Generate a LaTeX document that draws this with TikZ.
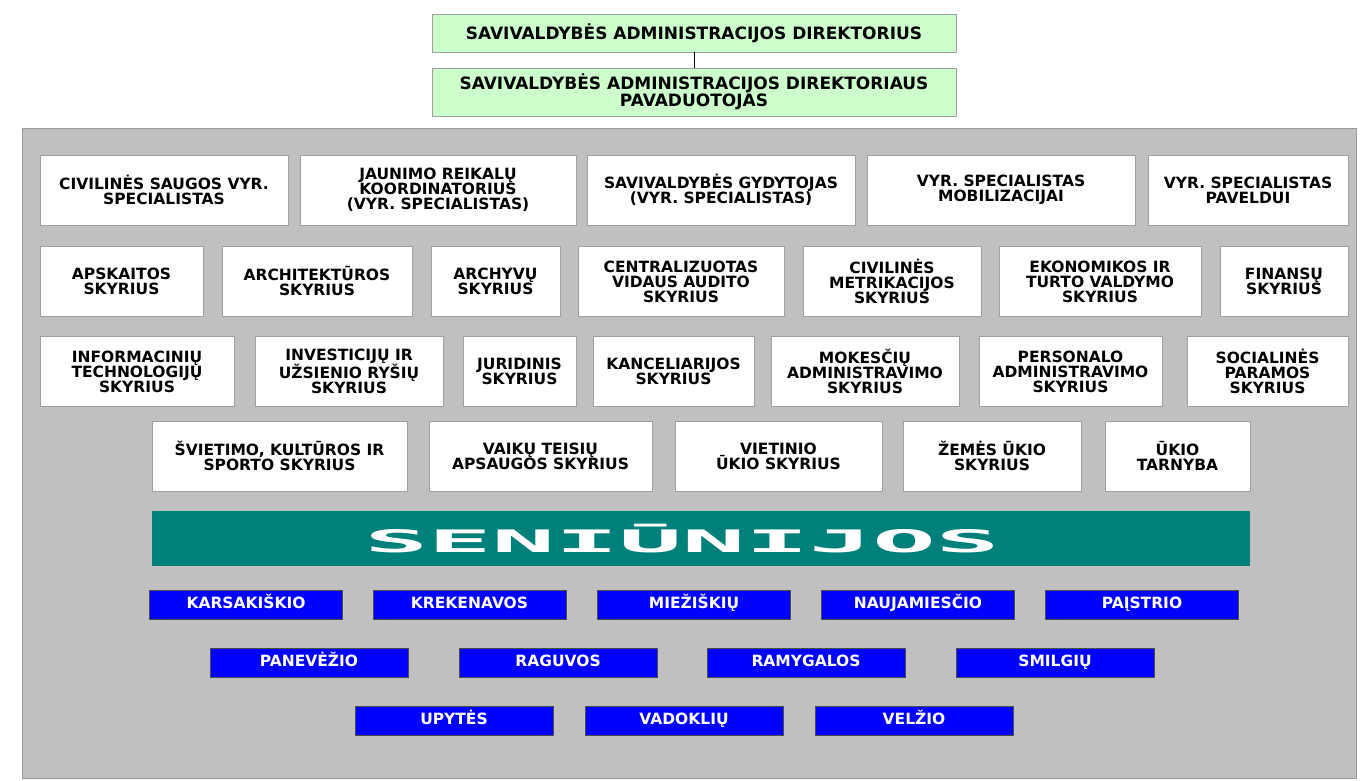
\documentclass[tikz,border=0pt]{standalone}
\usepackage{fontspec}
\setmainfont{DejaVu Sans}
\newfontfamily\widefont{DejaVu Sans Mono}
\usetikzlibrary{shapes,positioning}
\definecolor{panelgray}{RGB}{192,192,192}
\definecolor{headgreen}{RGB}{204,255,204}
\definecolor{bannerteal}{RGB}{0,128,122}
\definecolor{wardblue}{RGB}{0,0,255}
\tikzstyle{head} = [draw=gray!75,fill=headgreen,rectangle,inner sep=0,minimum width=524pt,align=center,font=\fontsize{17}{17}\selectfont\bfseries]
\tikzstyle{unit} = [draw=gray!75,fill=white,rectangle,inner sep=0,align=center,font=\fontsize{15.5}{15}\selectfont\bfseries]
\tikzstyle{ward} = [draw=gray!60!black,fill=wardblue,text=white,rectangle,inner sep=0,minimum height=29pt,text height=11.5pt,text depth=3.5pt,font=\fontsize{15.5}{15}\selectfont\bfseries]
\tikzstyle{banner} = [fill=bannerteal,rectangle,inner sep=0,minimum width=1098pt,minimum height=55pt]
\tikzstyle{bannertext} = [text=white,inner sep=0,font=\widefont\bfseries\fontsize{31}{31}\selectfont]
\tikzstyle{panel} = [draw=gray!80,fill=panelgray]
\tikzstyle{index} = [-,thin,color=black]
\def \rowh {70pt}

\begin{document}
\begin{tikzpicture}[x=1pt,y=-1pt]
  \fill[white] (0,0) rectangle (1365,781);
  \useasboundingbox (0,0) rectangle (1365,781);
  % management
  \node[head,minimum height=38pt] (dir) at (694,33) {SAVIVALDYBĖS ADMINISTRACIJOS DIREKTORIUS};
  \node[head,minimum height=48pt] (dirpav) at (694,92) {SAVIVALDYBĖS ADMINISTRACIJOS DIREKTORIAUS\\PAVADUOTOJAS};
  \draw[index] (dir) -- (dirpav);
  \draw[panel] (22,128) rectangle (1356,778);

  % specialists
  \node[unit,minimum width=248pt,minimum height=\rowh] (civsaug) at (164,190) {CIVILINĖS SAUGOS VYR.\\SPECIALISTAS};
  \node[unit,minimum width=276pt,minimum height=\rowh] (jaun) at (438,190) {JAUNIMO REIKALŲ\\KOORDINATORIUS\\(VYR. SPECIALISTAS)};
  \node[unit,minimum width=268pt,minimum height=\rowh] (gyd) at (721,190) {SAVIVALDYBĖS GYDYTOJAS\\(VYR. SPECIALISTAS)};
  \node[unit,minimum width=268pt,minimum height=\rowh] (mob) at (1001,190) {VYR. SPECIALISTAS\\MOBILIZACIJAI};
  \node[unit,minimum width=200pt,minimum height=\rowh] (paveld) at (1248,190) {VYR. SPECIALISTAS\\PAVELDUI};

  % departments
  \node[unit,minimum width=163pt,minimum height=\rowh] (apsk) at (121.5,281.5) {APSKAITOS\\SKYRIUS};
  \node[unit,minimum width=190pt,minimum height=\rowh] (arch) at (317,281.5) {ARCHITEKTŪROS\\SKYRIUS};
  \node[unit,minimum width=129pt,minimum height=\rowh] (archyv) at (495.5,281.5) {ARCHYVŲ\\SKYRIUS};
  \node[unit,minimum width=206pt,minimum height=\rowh] (audit) at (681,281.5) {CENTRALIZUOTAS\\VIDAUS AUDITO\\SKYRIUS};
  \node[unit,minimum width=178pt,minimum height=\rowh] (metr) at (892,281.5) {CIVILINĖS\\METRIKACIJOS\\SKYRIUS};
  \node[unit,minimum width=202pt,minimum height=\rowh] (ekon) at (1100,281.5) {EKONOMIKOS IR\\TURTO VALDYMO\\SKYRIUS};
  \node[unit,minimum width=128pt,minimum height=\rowh] (fin) at (1284,281.5) {FINANSŲ\\SKYRIUS};

  \node[unit,minimum width=194pt,minimum height=\rowh] (inftech) at (137,371.5) {INFORMACINIŲ\\TECHNOLOGIJŲ\\SKYRIUS};
  \node[unit,minimum width=188pt,minimum height=\rowh] (invest) at (349,371.5) {INVESTICIJŲ IR\\UŽSIENIO RYŠIŲ\\SKYRIUS};
  \node[unit,minimum width=113pt,minimum height=\rowh] (jur) at (519.5,371.5) {JURIDINIS\\SKYRIUS};
  \node[unit,minimum width=161pt,minimum height=\rowh] (kanc) at (673.5,371.5) {KANCELIARIJOS\\SKYRIUS};
  \node[unit,minimum width=188pt,minimum height=\rowh] (mok) at (865,371.5) {MOKESČIŲ\\ADMINISTRAVIMO\\SKYRIUS};
  \node[unit,minimum width=183pt,minimum height=\rowh] (pers) at (1070.5,371.5) {PERSONALO\\ADMINISTRAVIMO\\SKYRIUS};
  \node[unit,minimum width=161pt,minimum height=\rowh] (soc) at (1267.5,371.5) {SOCIALINĖS\\PARAMOS\\SKYRIUS};

  \node[unit,minimum width=255pt,minimum height=\rowh] (svkult) at (279.5,456) {ŠVIETIMO, KULTŪROS IR\\SPORTO SKYRIUS};
  \node[unit,minimum width=223pt,minimum height=\rowh] (vaik) at (540.5,456) {VAIKŲ TEISIŲ\\APSAUGOS SKYRIUS};
  \node[unit,minimum width=207pt,minimum height=\rowh] (viet) at (778.5,456) {VIETINIO\\ŪKIO SKYRIUS};
  \node[unit,minimum width=178pt,minimum height=\rowh] (zem) at (992,456) {ŽEMĖS ŪKIO\\SKYRIUS};
  \node[unit,minimum width=145pt,minimum height=\rowh] (ukio) at (1177.5,456) {ŪKIO\\TARNYBA};

  % elderships
  \node[banner] (sen) at (701,538.5) {};
  \node[bannertext] (senlabel) at (682,539) {\scalebox{3.4}[1]{SENIŪNIJOS}};

  \node[ward,minimum width=193pt] (karsak) at (246,604.5) {KARSAKIŠKIO};
  \node[ward,minimum width=193pt] (kreken) at (469.5,604.5) {KREKENAVOS};
  \node[ward,minimum width=193pt] (miez) at (694,604.5) {MIEŽIŠKIŲ};
  \node[ward,minimum width=193pt] (naujam) at (918,604.5) {NAUJAMIESČIO};
  \node[ward,minimum width=193pt] (paist) at (1142,604.5) {PAĮSTRIO};

  \node[ward,minimum width=198pt] (panev) at (309,662.5) {PANEVĖŽIO};
  \node[ward,minimum width=198pt] (raguv) at (558,662.5) {RAGUVOS};
  \node[ward,minimum width=198pt] (ramyg) at (806,662.5) {RAMYGALOS};
  \node[ward,minimum width=198pt] (smilg) at (1055,662.5) {SMILGIŲ};

  \node[ward,minimum width=198pt] (upyt) at (454,720.5) {UPYTĖS};
  \node[ward,minimum width=198pt] (vadokl) at (684,720.5) {VADOKLIŲ};
  \node[ward,minimum width=198pt] (velz) at (914,720.5) {VELŽIO};
\end{tikzpicture}
\end{document}
